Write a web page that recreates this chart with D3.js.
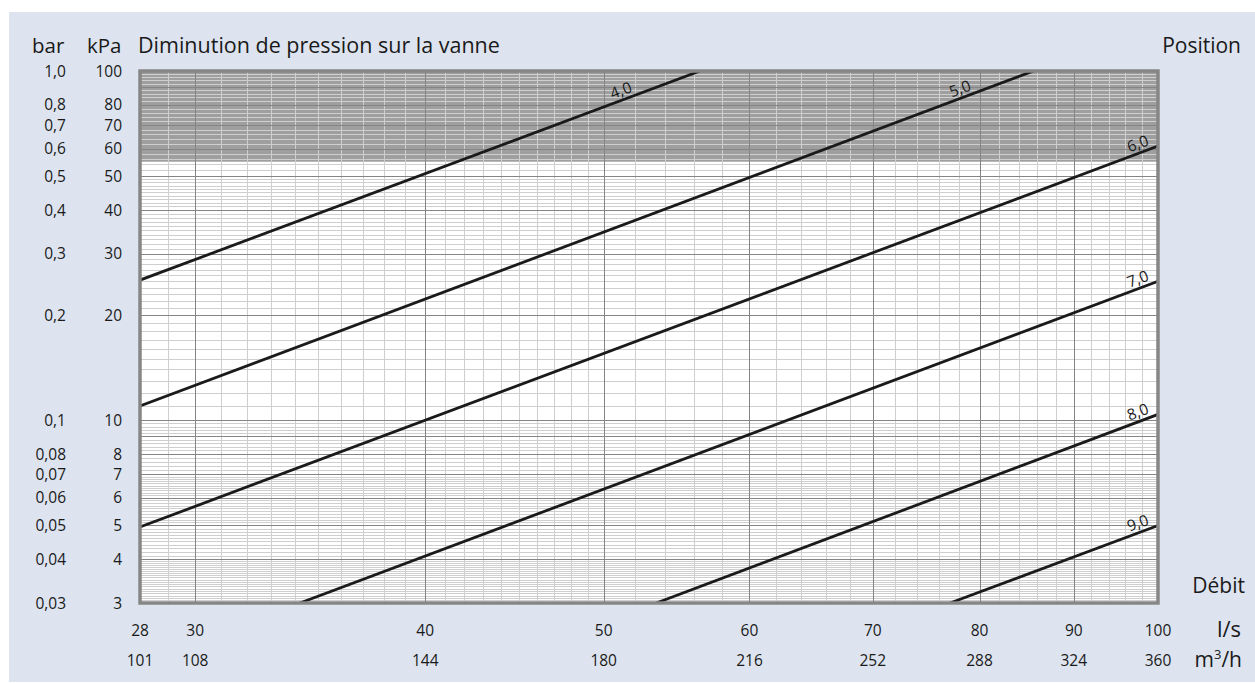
<!DOCTYPE html>
<html><head><meta charset="utf-8">
<script src="https://cdn.jsdelivr.net/npm/d3@7"></script>
<style>
body{margin:0;background:#fff}
svg{display:block}
text{font-family:"Open Sans",sans-serif;fill:#1a1a1a}
</style>
</head><body>
<svg id="c" width="1255" height="683"></svg>
<script>
// ---- data ----
const positions = ["4,0","5,0","6,0","7,0","8,0","9,0"];
const flowStart = [28, 28, 28, 34.2, 53.4, 77.1];     // l/s
const dpStart   = [25.2, 11.0, 4.95, 3, 3, 3];       // kPa
const flowEnd   = [56.4, 85.6, 100, 100, 100, 100];  // l/s
const dpEnd     = [100, 100, 61, 25, 10.4, 5.0];     // kPa
const labelFlow = [51.3, 78.4, 97.9, 97.9, 97.9, 97.9];

const kPaTicks = [100, 80, 70, 60, 50, 40, 30, 20, 10, 8, 7, 6, 5, 4, 3];
const barTicks = ["1,0","0,8","0,7","0,6","0,5","0,4","0,3","0,2","0,1","0,08","0,07","0,06","0,05","0,04","0,03"];
const lsTicks  = [28, 30, 40, 50, 60, 70, 80, 90, 100];
const m3hTicks = [101, 108, 144, 180, 216, 252, 288, 324, 360];
const shadedFrom = 55; // kPa, shaded zone up to the top

const yMinor = [[3,4,0.05],[4,7,0.1],[7,10,0.2],[10,50,1],[50,100,2]];
const yMajor = [3,4,5,6,7,8,9,10,20,30,40,50,60,70,80,90,100];
const xMinor = [[28,50,1],[50,100,2]];
const xMajor = [30,40,50,60,70,80,90];

// ---- layout ----
const svg = d3.select("#c");
const L = 140, R = 1158, T = 71, B = 603;
const x = d3.scaleLog().domain([28, 100]).range([L, R]);
const y = d3.scaleLog().domain([3, 100]).range([B, T]);

svg.append("rect").attr("x", 9).attr("y", 12).attr("width", 1246).attr("height", 670).attr("fill", "#dde4ef");

const plot = svg.append("g");
plot.append("rect").attr("x", L).attr("y", T).attr("width", R - L).attr("height", B - T).attr("fill", "#fff");
plot.append("rect").attr("x", L).attr("y", y(100)).attr("width", R - L).attr("height", y(shadedFrom) - y(100)).attr("fill", "#9f9f9f");

function stepped(spec) {
  const out = [];
  spec.forEach(([a, b, s]) => {
    for (let v = a; v < b + 1e-9; v += s) out.push(Math.round(v * 1000) / 1000);
  });
  return Array.from(new Set(out));
}
const yMin = stepped(yMinor).filter(v => !yMajor.includes(v));
const xMin = stepped(xMinor).filter(v => !xMajor.includes(v));

plot.selectAll(".hm").data(yMin).join("line")
  .attr("x1", L).attr("x2", R).attr("y1", d => Math.round(y(d)) + 0.5).attr("y2", d => Math.round(y(d)) + 0.5)
  .attr("stroke", "#cfcfcf").attr("stroke-width", 1);
plot.selectAll(".vm").data(xMin).join("line")
  .attr("y1", T).attr("y2", B).attr("x1", d => Math.round(x(d)) + 0.5).attr("x2", d => Math.round(x(d)) + 0.5)
  .attr("stroke", "#cfcfcf").attr("stroke-width", 1);
plot.selectAll(".hM").data(yMajor).join("line")
  .attr("x1", L).attr("x2", R).attr("y1", d => Math.round(y(d)) + 0.5).attr("y2", d => Math.round(y(d)) + 0.5)
  .attr("stroke", "#858585").attr("stroke-width", 1);
plot.selectAll(".vM").data(xMajor).join("line")
  .attr("y1", T).attr("y2", B).attr("x1", d => Math.round(x(d)) + 0.5).attr("x2", d => Math.round(x(d)) + 0.5)
  .attr("stroke", "#858585").attr("stroke-width", 1);

// curves
svg.append("clipPath").attr("id", "clip").append("rect").attr("x", L).attr("y", T).attr("width", R - L).attr("height", B - T);
const curves = positions.map((p, i) => ({p, q1: flowStart[i], d1: dpStart[i], q2: flowEnd[i], d2: dpEnd[i], lq: labelFlow[i]}));
const cg = svg.append("g").attr("clip-path", "url(#clip)");
cg.selectAll("line").data(curves).join("line")
  .attr("x1", d => x(d.q1)).attr("y1", d => y(d.d1)).attr("x2", d => x(d.q2)).attr("y2", d => y(d.d2))
  .attr("stroke", "#1a1a1a").attr("stroke-width", 2.8).attr("stroke-linecap", "butt");

// labels along curves
curves.forEach(d => {
  const t = Math.log(d.lq / d.q1) / Math.log(d.q2 / d.q1);
  const dp = Math.exp(Math.log(d.d1) + t * (Math.log(d.d2) - Math.log(d.d1)));
  const px = x(d.lq), py = y(dp);
  const ang = Math.atan2(y(d.d2) - y(d.d1), x(d.q2) - x(d.q1)) * 180 / Math.PI;
  svg.append("text").attr("transform", `translate(${px},${py}) rotate(${ang})`)
    .attr("y", -4).attr("text-anchor", "middle").attr("font-size", 15.5).attr("fill", "#222").text(d.p);
});

// frame
svg.append("rect").attr("x", L).attr("y", T).attr("width", R - L).attr("height", B - T)
  .attr("fill", "none").attr("stroke", "#868686").attr("stroke-width", 3.5);

// y labels
const yl = svg.append("g");
yl.selectAll(".k").data(kPaTicks).join("text").attr("x", 122).attr("y", d => y(d)).attr("dy", "0.36em")
  .attr("text-anchor", "end").attr("font-size", 15.5).text(d => d);
yl.selectAll(".b").data(kPaTicks).join("text").attr("x", 66).attr("y", d => y(d)).attr("dy", "0.36em")
  .attr("text-anchor", "end").attr("font-size", 15.5).text((d, i) => barTicks[i]);

// x labels
const xl = svg.append("g");
xl.selectAll(".l").data(lsTicks).join("text").attr("x", d => x(d)).attr("y", 636)
  .attr("text-anchor", "middle").attr("font-size", 15.5).text(d => d);
xl.selectAll(".m").data(lsTicks).join("text").attr("x", d => x(d)).attr("y", 666)
  .attr("text-anchor", "middle").attr("font-size", 15.5).text((d, i) => m3hTicks[i]);

// headings
svg.append("text").attr("x", 32).attr("y", 53).attr("font-size", 20.5).text("bar");
svg.append("text").attr("x", 87).attr("y", 53).attr("font-size", 20.5).text("kPa");
svg.append("text").attr("x", 138).attr("y", 53).attr("font-size", 21.5).text("Diminution de pression sur la vanne");
svg.append("text").attr("x", 1241).attr("y", 53).attr("text-anchor", "end").attr("font-size", 21).text("Position");
svg.append("text").attr("x", 1245).attr("y", 593).attr("text-anchor", "end").attr("font-size", 21).text("Débit");
svg.append("text").attr("x", 1241).attr("y", 637).attr("text-anchor", "end").attr("font-size", 22).text("l/s");
const m3 = svg.append("text").attr("x", 1242).attr("y", 667).attr("text-anchor", "end").attr("font-size", 21);
m3.append("tspan").text("m");
m3.append("tspan").attr("font-size", 13).attr("dy", -8).text("3");
m3.append("tspan").attr("dy", 8).text("/h");
</script>
</body></html>
